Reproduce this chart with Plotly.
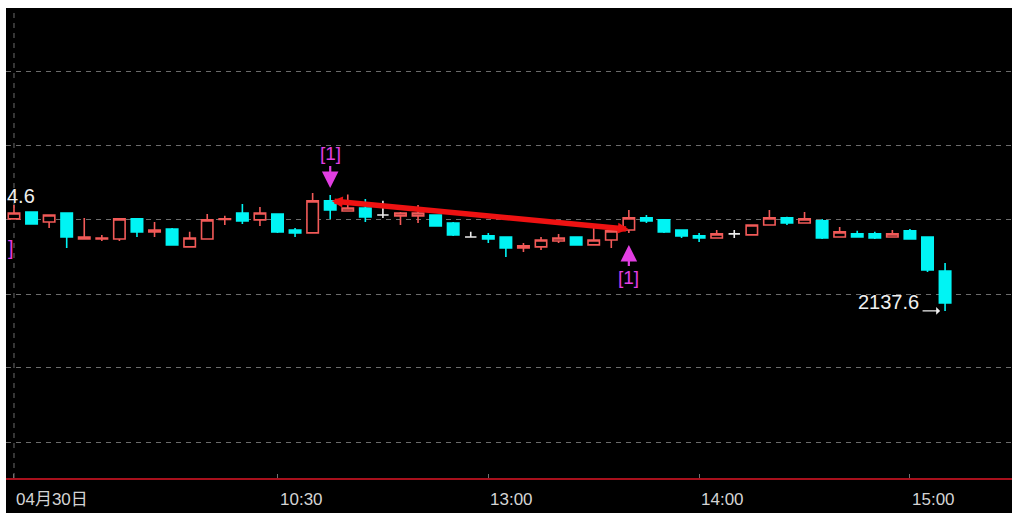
import plotly.graph_objects as go

# ---------------- data ----------------
bar_index = list(range(54))

opens = [2143.06, 2143.47, 2142.88, 2143.41, 2141.87, 2141.87, 2141.87, 2143.06, 2142.29, 2142.46,
         2141.40, 2141.87, 2143.02, 2143.41, 2143.00, 2143.35, 2142.40, 2142.23, 2144.13, 2143.53,
         2143.71, 2143.29, 2143.24, 2143.24, 2143.29, 2142.82, 2141.99, 2142.05, 2141.99, 2141.34,
         2141.40, 2141.75, 2141.99, 2141.52, 2141.81, 2142.40, 2143.12, 2143.00, 2142.40, 2142.05,
         2141.93, 2142.17, 2142.11, 2142.70, 2143.12, 2142.82, 2142.94, 2141.99, 2142.17, 2142.17,
         2141.99, 2142.35, 2141.99, 2139.97]

highs = [2143.89, 2143.47, 2143.29, 2143.41, 2143.12, 2142.11, 2143.12, 2143.12, 2142.88, 2142.52,
         2142.29, 2143.35, 2143.24, 2143.95, 2143.77, 2143.35, 2142.52, 2144.60, 2144.48, 2144.50,
         2144.24, 2144.13, 2143.47, 2143.89, 2143.29, 2142.88, 2142.29, 2142.23, 2141.99, 2141.63,
         2141.99, 2142.17, 2141.99, 2142.52, 2142.35, 2143.59, 2143.29, 2143.06, 2142.40, 2142.23,
         2142.40, 2142.40, 2142.70, 2143.59, 2143.18, 2143.47, 2143.06, 2142.58, 2142.35, 2142.29,
         2142.40, 2142.46, 2141.99, 2140.45]

lows = [2143.06, 2142.76, 2142.52, 2141.34, 2141.87, 2141.75, 2141.75, 2141.99, 2141.99, 2141.52,
        2141.40, 2141.87, 2142.70, 2142.76, 2142.64, 2142.23, 2141.99, 2142.23, 2143.06, 2143.53,
        2142.88, 2143.12, 2142.70, 2142.82, 2142.64, 2142.05, 2141.99, 2141.63, 2140.80, 2141.10,
        2141.22, 2141.63, 2141.52, 2141.52, 2141.34, 2142.23, 2142.82, 2142.23, 2141.93, 2141.69,
        2141.93, 2141.93, 2142.11, 2142.70, 2142.70, 2142.82, 2141.87, 2141.99, 2141.99, 2141.87,
        2141.99, 2141.87, 2139.91, 2137.60]

closes = [2143.41, 2142.76, 2143.29, 2141.99, 2141.99, 2141.93, 2143.06, 2142.29, 2142.40, 2141.52,
          2141.93, 2143.00, 2143.06, 2142.94, 2143.41, 2142.29, 2142.23, 2144.13, 2143.59, 2143.71,
          2143.18, 2143.29, 2143.41, 2143.41, 2142.64, 2142.11, 2141.99, 2141.87, 2141.34, 2141.46,
          2141.81, 2141.93, 2141.52, 2141.81, 2142.35, 2143.12, 2142.94, 2142.29, 2142.05, 2141.93,
          2142.17, 2142.17, 2142.70, 2143.12, 2142.82, 2143.06, 2141.93, 2142.29, 2141.99, 2141.93,
          2142.17, 2141.87, 2140.03, 2138.07]

tick_index = [0, 15, 27, 39, 51]
tick_labels = ["04月30日", "10:30", "13:00", "14:00", "15:00"]

grid_levels = [2151.78, 2147.39, 2143.00, 2138.55, 2134.22, 2129.77]
day_separators = [0]

sell_signals = [18]
buy_signals = [35]
# only the closing bracket of an earlier (off-screen) signal is visible at the left edge
edge_signal_price = [2141.34]

trend_x = [18, 35]
trend_y = [2144.13, 2142.45]

# ---------------- styling ----------------
UP = "#f25a58"
DOWN = "#00f4f4"
FLAT = "#ececec"
MAGENTA = "#e23ee2"
GRID = "#6c6c6c"
FONT = "Liberation Sans, Noto Sans CJK SC, sans-serif"

fig = go.Figure()


def add_group(cond, line_color, fill_color):
    xs = [i for i in bar_index if cond(opens[i], closes[i])]
    style = dict(line=dict(color=line_color, width=1.6), fillcolor=fill_color)
    fig.add_trace(go.Candlestick(
        x=xs,
        open=[opens[i] for i in xs],
        high=[highs[i] for i in xs],
        low=[lows[i] for i in xs],
        close=[closes[i] for i in xs],
        increasing=style,
        decreasing=style,
        whiskerwidth=0,
        showlegend=False,
        hoverinfo="skip",
    ))


add_group(lambda o, c: c > o, UP, "#000000")
add_group(lambda o, c: c < o, DOWN, DOWN)
add_group(lambda o, c: c == o, FLAT, FLAT)

# day separator
for d in day_separators:
    fig.add_vline(x=d, line=dict(color=GRID, width=1, dash="5px,5px"), layer="below")

# x-axis labels (left-aligned at their ticks)
for i, lab in zip(tick_index, tick_labels):
    fig.add_annotation(x=i, y=0, xref="x", yref="paper", text=lab, showarrow=False,
                       xanchor="left", yanchor="middle", xshift=0, yshift=-21,
                       font=dict(family=FONT, size=17, color="#d4d4d4"))

# trend line with arrowheads on both ends
fig.add_annotation(x=trend_x[1], y=trend_y[1], ax=trend_x[0], ay=trend_y[0],
                   xref="x", yref="y", axref="x", ayref="y", text="",
                   showarrow=True, arrowside="end+start", arrowhead=2,
                   arrowsize=0.4, arrowwidth=5.5, arrowcolor="#ee1212")

# signal markers
for i in sell_signals:
    fig.add_annotation(x=i, y=highs[i], text="[1]", showarrow=True, ax=0, ay=-41,
                       arrowhead=2, arrowsize=1.5, arrowwidth=2.2, arrowcolor=MAGENTA,
                       standoff=7, font=dict(family=FONT, size=19, color=MAGENTA))
for i in buy_signals:
    fig.add_annotation(x=i, y=lows[i], text="[1]", showarrow=True, ax=0, ay=45,
                       arrowhead=2, arrowsize=1.5, arrowwidth=2.2, arrowcolor=MAGENTA,
                       standoff=12, font=dict(family=FONT, size=19, color=MAGENTA))
for p in edge_signal_price:
    fig.add_annotation(x=bar_index[0], y=p, text="]", showarrow=False, xanchor="left",
                       xshift=-8, font=dict(family=FONT, size=20, color=MAGENTA))

# extreme labels
lo_i = lows.index(min(lows))
fig.add_annotation(x=lo_i, y=lows[lo_i], text="", showarrow=True, ax=-24, ay=0,
                   arrowhead=1, arrowsize=1, arrowwidth=1.3, arrowcolor="#f0f0f0", standoff=5)
fig.add_annotation(x=lo_i, y=lows[lo_i], text=f"{min(lows):.1f}", showarrow=False,
                   xanchor="right", yanchor="bottom", xshift=-24, yshift=-4,
                   font=dict(family=FONT, size=20, color="#f0f0f0"))
# the high label is only partly visible at the left edge in the reference ("4.6")
fig.add_annotation(x=bar_index[0], y=highs[0], text=f"{max(highs):.1f}"[-3:], showarrow=False,
                   xanchor="right", yanchor="bottom", xshift=23, yshift=-4,
                   font=dict(family=FONT, size=20, color="#f0f0f0"))

fig.update_layout(
    width=1006, height=505,
    margin=dict(l=0, r=0, t=0, b=35),
    paper_bgcolor="#000000", plot_bgcolor="#000000",
    showlegend=False, boxgap=0.35, boxgroupgap=0,
    xaxis=dict(range=[-0.455, 56.81], rangeslider=dict(visible=False), showgrid=False,
               zeroline=False, showline=True, linecolor="#a8101c", linewidth=2,
               tickvals=tick_index, ticks="inside", ticklen=4, tickcolor="#707070",
               showticklabels=False, fixedrange=True),
    yaxis=dict(range=[2127.69, 2155.57], tickvals=grid_levels, showticklabels=False,
               showgrid=True, gridcolor=GRID, griddash="5px,5px", gridwidth=1,
               zeroline=False, showline=False, ticks="", fixedrange=True),
)

fig.write_html("out.html", post_script=(
    "document.body.style.margin='8px 0 0 6px';"
    "document.body.style.overflow='hidden';"
    "document.body.style.background='#ffffff';"
))
